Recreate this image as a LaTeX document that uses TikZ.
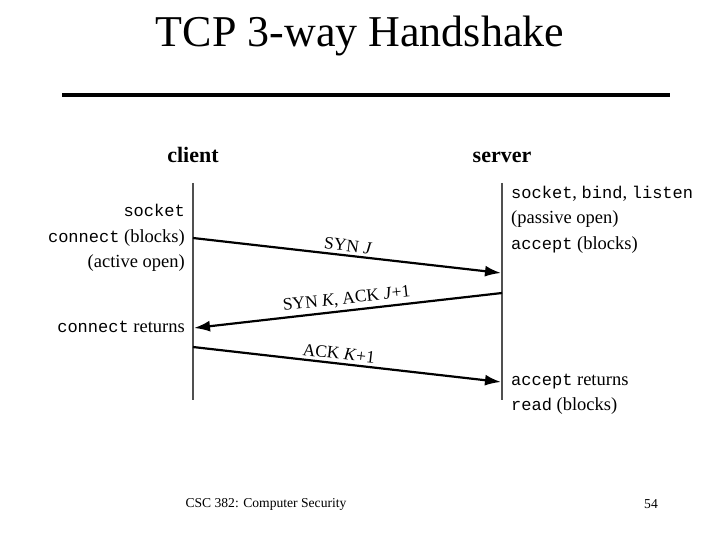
\documentclass[tikz,border=0pt]{standalone}
\usepackage{fontspec}
\setmainfont{Liberation Serif}
\setmonofont[Scale=0.92]{Liberation Mono}
\usepackage{tikz}
\usepackage{xcolor}
\definecolor{lifegray}{RGB}{80, 80, 80}
\usetikzlibrary{calc,positioning,arrows.meta}

\tikzset{
    lifeline/.style={line width=2pt, lifegray},
    msg/.style={line width=2.2pt, -{Latex[length=16pt,width=11pt]}},
    msglabel/.style={font=\fontsize{17.5}{19}\selectfont, sloped, above, inner sep=3pt},
    party/.style={anchor=base, font=\fontsize{22}{24}\selectfont\bfseries},
    callL/.style={anchor=base east, font=\fontsize{18.5}{20}\selectfont, inner sep=0pt},
    callR/.style={anchor=base west, font=\fontsize{18.5}{20}\selectfont, inner sep=0pt}
}

\begin{document}
\begin{tikzpicture}[x=1pt, y=1pt]
    \useasboundingbox (0,0) rectangle (720,-540);

    % Title and rule
    \node[anchor=base] (title) at (360,-47) {\fontsize{44}{47}\selectfont TCP 3-way Handshake};
    \draw[line width=4pt] (62,-95) -- (670,-95);

    % Parties
    \node[party] (client) at (193,-163) {client};
    \node[party] (server) at (502,-163) {server};

    % Time lines
    \coordinate (ctop) at (193,-183);
    \coordinate (cbot) at (193,-400);
    \coordinate (stop) at (502,-183);
    \coordinate (sbot) at (502,-400);
    \draw[lifeline] (ctop) -- (cbot);
    \draw[lifeline] (stop) -- (sbot);

    % Client side calls
    \node[callL] (csock) at (185,-217) {\texttt{socket}};
    \node[callL] (cconn) at (185,-242) {\texttt{connect} (blocks)};
    \node[callL] (cact) at (185,-267) {(active open)};
    \node[callL] (cret) at (185,-332) {\texttt{connect} returns};

    % Server side calls
    \node[callR] (ssock) at (511,-199) {\texttt{socket}, \texttt{bind}, \texttt{listen}};
    \node[callR] (spass) at (511,-224) {(passive open)};
    \node[callR] (sacc) at (511,-249) {\texttt{accept} (blocks)};
    \node[callR] (sret) at (511,-385) {\texttt{accept} returns};
    \node[callR] (sread) at (511,-410) {\texttt{read} (blocks)};

    % Segments
    \coordinate (syn1) at (193,-238);
    \coordinate (syn2) at (501,-273);
    \coordinate (sa1) at (502,-293);
    \coordinate (sa2) at (194,-328);
    \coordinate (ack1) at (193,-347);
    \coordinate (ack2) at (501,-382);
    \draw[msg] (syn1) -- node[msglabel] {SYN \textit{J}} (syn2);
    \draw[msg] (sa1) -- node[msglabel] {SYN \textit{K}, ACK \textit{J}+1} (sa2);
    \draw[msg] (ack1) -- node[msglabel, pos=0.47] {ACK \textit{K}+1} (ack2);

    % Footer
    \node (course) at (266,-504) {\fontsize{13.6}{15}\selectfont CSC 382: Computer Security};
    \node (page) at (651,-504) {\fontsize{13.6}{15}\selectfont 54};
\end{tikzpicture}
\end{document}
